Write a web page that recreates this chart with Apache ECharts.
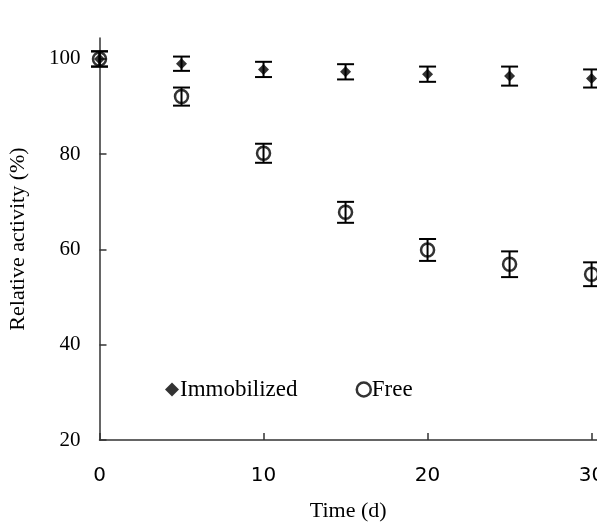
<!DOCTYPE html>
<html>
<head>
<meta charset="utf-8">
<script src="https://cdn.jsdelivr.net/npm/echarts@6/dist/echarts.min.js"></script>
<style>
html,body{margin:0;padding:0;background:#fff;}
#chart{width:597px;height:523px;}
</style>
</head>
<body>
<div id="chart"></div>
<script>
const days = [0, 5, 10, 15, 20, 25, 30];
const immobilized = [100, 99.0, 97.8, 97.3, 96.8, 96.4, 95.9];
const immobilizedErr = [1.6, 1.5, 1.6, 1.6, 1.6, 2.0, 1.9];
const free = [100, 92.1, 80.2, 67.8, 59.9, 56.9, 54.8];
const freeErr = [1.6, 1.9, 2.0, 2.2, 2.3, 2.7, 2.5];
const xTicks = [0, 10, 20, 30];
const yTicks = [20, 40, 60, 80, 100];

const chart = echarts.init(document.getElementById('chart'), null, {renderer: 'canvas'});

function pts(vals) { return days.map((d, i) => [d, vals[i]]); }
function errData(vals, errs) { return days.map((d, i) => [d, vals[i] - errs[i], vals[i] + errs[i]]); }

function errorRender(params, api) {
  const x = api.value(0);
  const lo = api.coord([x, api.value(1)]);
  const hi = api.coord([x, api.value(2)]);
  const hw = 8.5;
  const style = {stroke: '#000', lineWidth: 2, fill: null};
  return {
    type: 'group',
    children: [
      {type: 'line', shape: {x1: lo[0], y1: lo[1], x2: hi[0], y2: hi[1]}, style: style},
      {type: 'line', shape: {x1: lo[0] - hw, y1: lo[1], x2: lo[0] + hw, y2: lo[1]}, style: style},
      {type: 'line', shape: {x1: hi[0] - hw, y1: hi[1], x2: hi[0] + hw, y2: hi[1]}, style: style}
    ]
  };
}

const serif = 'Liberation Serif';

chart.setOption({
  animation: false,
  backgroundColor: '#fff',
  grid: {left: 99.5, right: 0, top: 38, bottom: 83, containLabel: false, outerBoundsMode: 'none'},
  legend: {
    left: 160, top: 373,
    itemGap: 58, itemWidth: 14, itemHeight: 14,
    textStyle: {fontFamily: serif, fontSize: 23, color: '#000', padding: [0, 0, 0, -4]},
    data: [
      {name: 'Immobilized', icon: 'diamond', itemStyle: {color: '#000'}},
      {name: 'Free', icon: 'circle', itemStyle: {color: '#fff', borderColor: '#000', borderWidth: 2.5}}
    ]
  },
  xAxis: {
    type: 'value', min: 0, max: 30.33, interval: 10,
    name: 'Time (d)', nameLocation: 'middle', nameGap: 60,
    nameTextStyle: {fontFamily: serif, fontSize: 22, color: '#000'},
    axisLine: {onZero: false, lineStyle: {color: '#333', width: 1.5}},
    axisTick: {inside: true, length: 7, customValues: xTicks, lineStyle: {color: '#333', width: 1.5}},
    axisLabel: {fontFamily: 'DejaVu Sans', fontSize: 20, color: '#000', margin: 26, customValues: xTicks},
    splitLine: {show: false}
  },
  yAxis: {
    type: 'value', min: 20, max: 104.4, interval: 20,
    name: 'Relative activity (%)', nameLocation: 'middle', nameGap: 70,
    nameTextStyle: {fontFamily: serif, fontSize: 22, color: '#000'},
    axisLine: {show: true, lineStyle: {color: '#333', width: 1.5}},
    axisTick: {show: true, inside: true, length: 7, customValues: yTicks, lineStyle: {color: '#333', width: 1.5}},
    axisLabel: {fontFamily: serif, fontSize: 21, color: '#000', margin: 19, customValues: yTicks},
    splitLine: {show: false}
  },
  series: [
    {name: 'FreeErr', type: 'custom', renderItem: errorRender, data: errData(free, freeErr), z: 2, silent: true},
    {name: 'ImmErr', type: 'custom', renderItem: errorRender, data: errData(immobilized, immobilizedErr), z: 2, silent: true},
    {name: 'Free', type: 'scatter', data: pts(free), symbol: 'circle', symbolSize: 13,
      itemStyle: {color: 'rgba(255,255,255,0)', borderColor: '#000', borderWidth: 2.5}, z: 3},
    {name: 'Immobilized', type: 'scatter', data: pts(immobilized), symbol: 'diamond', symbolSize: 11,
      itemStyle: {color: '#000'}, z: 4}
  ]
});
</script>
</body>
</html>
